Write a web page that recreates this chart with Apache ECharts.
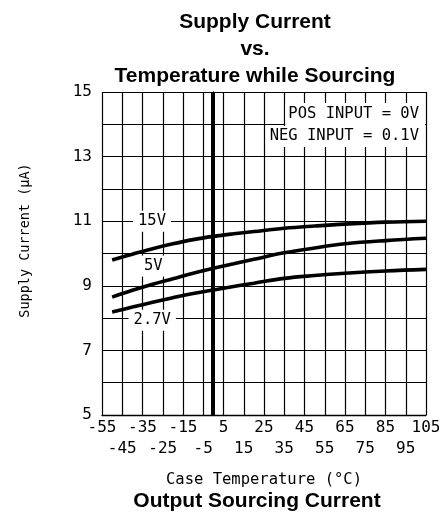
<!DOCTYPE html>
<html>
<head>
<meta charset="utf-8">
<script src="https://cdn.jsdelivr.net/npm/echarts@6/dist/echarts.min.js"></script>
<style>
html,body{margin:0;padding:0;background:#fff;}
#c{width:445px;height:521px;}
</style>
</head>
<body>
<div id="c"></div>
<script>
// ---- data ----
const temps = [-50, -40, -30, -20, -10, 0, 10, 20, 35, 50, 65, 85, 105];
const supply15V = [9.8, 9.98, 10.15, 10.3, 10.43, 10.53, 10.61, 10.68, 10.78, 10.85, 10.91, 10.97, 11.0];
const supply5V = [8.65, 8.86, 9.05, 9.22, 9.39, 9.54, 9.68, 9.82, 10.02, 10.17, 10.3, 10.4, 10.47];
const supply27V = [8.19, 8.34, 8.49, 8.63, 8.76, 8.87, 8.98, 9.08, 9.23, 9.32, 9.39, 9.46, 9.51];
const seriesNames = ['15V', '5V', '2.7V'];
const labelCoords = [[-30.3, 11.0], [-29.7, 9.61], [-30.2, 7.93]];
const markerTemp = -0.5;
const xTicks = { min: -55, max: 105, step: 10 };
const yTicks = { min: 5, max: 15, step: 1 };
const titleLines = ['Supply Current', 'vs.', 'Temperature while Sourcing'];
const subTitle = 'Output Sourcing Current';
const xName = 'Case Temperature (°C)';
const yName = 'Supply Current (μA)';
const notes = ['POS INPUT = 0V', 'NEG INPUT = 0.1V'];

const mono = 'DejaVu Sans Mono';
const seriesValues = [supply15V, supply5V, supply27V];

const chart = echarts.init(document.getElementById('c'), null, { renderer: 'canvas' });

const series = seriesValues.map((vals, i) => ({
  type: 'line',
  name: seriesNames[i],
  data: temps.map((t, k) => [t, vals[k]]),
  xAxisIndex: 0,
  smooth: 0.4,
  showSymbol: false,
  lineStyle: { color: '#000', width: 3.6 },
  z: 5,
  markPoint: {
    symbol: 'rect',
    symbolSize: 1,
    itemStyle: { color: 'rgba(0,0,0,0)' },
    silent: true,
    data: [{ coord: labelCoords[i], value: seriesNames[i] }],
    label: {
      show: true,
      position: 'inside',
      formatter: seriesNames[i],
      color: '#000',
      fontFamily: mono,
      fontSize: 15.5,
      backgroundColor: '#fff',
      padding: [3, 5, 2, 5]
    }
  },
  markLine: i === 0 ? {
    symbol: 'none',
    silent: true,
    label: { show: false },
    lineStyle: { color: '#000', width: 4, type: 'solid' },
    data: [{ xAxis: markerTemp }]
  } : undefined
}));

function tickIdx(v) { return Math.round((v - xTicks.min) / xTicks.step); }

chart.setOption({
  animation: false,
  backgroundColor: '#fff',
  title: [
    {
      text: titleLines.join('\n'),
      left: 250, top: 4, textAlign: 'center',
      textStyle: { fontFamily: 'Liberation Sans', fontWeight: 'bold', fontSize: 21, lineHeight: 27, color: '#000' }
    },
    {
      text: subTitle,
      left: 252, top: 484, textAlign: 'center',
      textStyle: { fontFamily: 'Liberation Sans', fontWeight: 'bold', fontSize: 21, lineHeight: 25, color: '#000' }
    }
  ],
  grid: { left: 102, top: 92, right: 19, bottom: 106, containLabel: false },
  xAxis: [
    {
      type: 'value',
      min: xTicks.min, max: xTicks.max, interval: xTicks.step,
      name: xName,
      nameLocation: 'middle',
      nameGap: 57,
      nameTextStyle: { fontFamily: mono, fontSize: 15.5, color: '#000' },
      axisLine: { show: true, lineStyle: { color: '#000', width: 1.3 } },
      axisTick: { show: false },
      splitLine: { show: true, lineStyle: { color: '#000', width: 1.2 } },
      axisLabel: {
        color: '#000', fontFamily: mono, fontSize: 16, lineHeight: 20, margin: 3,
        showMinLabel: true, showMaxLabel: true, hideOverlap: false,
        formatter: function (v) { return tickIdx(v) % 2 === 0 ? String(v) : ''; }
      }
    },
    {
      type: 'value',
      position: 'bottom',
      min: xTicks.min, max: xTicks.max, interval: xTicks.step,
      axisLine: { show: false },
      axisTick: { show: false },
      splitLine: { show: false },
      axisLabel: {
        color: '#000', fontFamily: mono, fontSize: 16, lineHeight: 20, margin: 24,
        showMinLabel: true, showMaxLabel: true, hideOverlap: false,
        formatter: function (v) { return tickIdx(v) % 2 === 1 ? String(v) : ''; }
      }
    }
  ],
  yAxis: {
    type: 'value',
    min: yTicks.min, max: yTicks.max, interval: yTicks.step,
    name: yName,
    nameLocation: 'middle',
    nameGap: 70,
    nameTextStyle: { fontFamily: mono, fontSize: 13.5, color: '#000', padding: [0, 0, 0, 26] },
    axisLine: { show: true, lineStyle: { color: '#000', width: 1.3 } },
    axisTick: { show: false },
    splitLine: { show: true, lineStyle: { color: '#000', width: 1.2 } },
    axisLabel: {
      color: '#000', fontFamily: mono, fontSize: 16, margin: 10,
      showMinLabel: true, showMaxLabel: true,
      formatter: function (v) { return (Math.round(v - yTicks.min) % 2 === 0) ? String(v) : ''; }
    }
  },
  graphic: [
    {
      type: 'text', right: 445 - 425, top: 103, z: 10,
      style: { text: notes[0], fontFamily: mono, fontSize: 15.5, fill: '#000', backgroundColor: '#fff', padding: [2, 6, 3, 3], lineHeight: 18 }
    },
    {
      type: 'text', right: 445 - 425, top: 126, z: 10,
      style: { text: notes[1], fontFamily: mono, fontSize: 15.5, fill: '#000', backgroundColor: '#fff', padding: [1, 6, 2, 3], lineHeight: 18 }
    }
  ],
  series: series
});
</script>
</body>
</html>
